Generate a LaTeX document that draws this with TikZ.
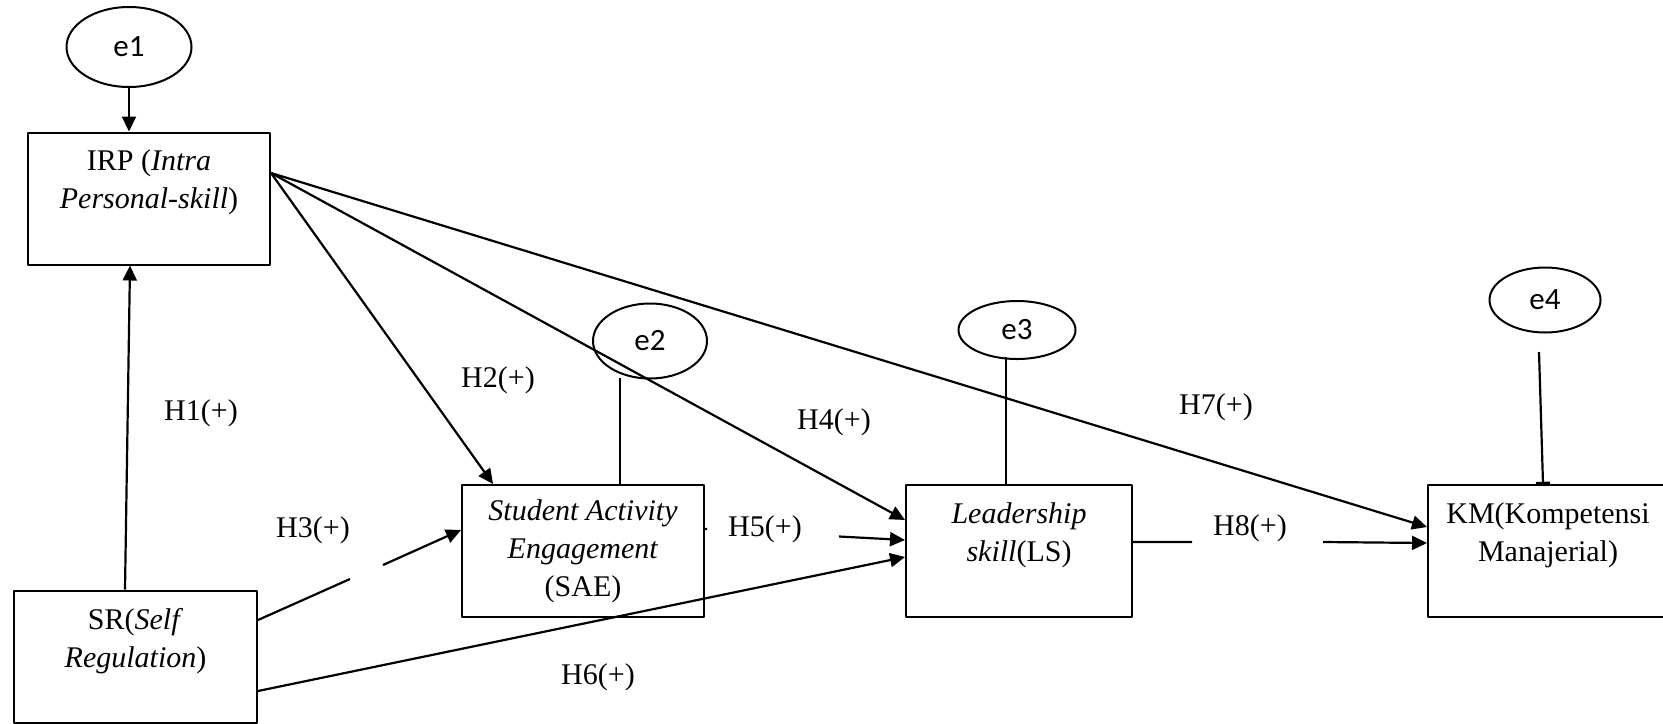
\documentclass[tikz,border=0pt]{standalone}
\usepackage{fontspec}
\setmainfont{Liberation Serif}
\newfontfamily\errfont{Carlito}
\usetikzlibrary{arrows.meta,shapes.geometric}
\begin{document}
\begin{tikzpicture}[x=0.5pt, y=-0.5pt, line join=round, line width=1.1pt,
	font=\fontsize{15}{19}\selectfont,
	>={Triangle[length=7.5pt,width=7pt]},
	box/.style={draw, line width=1pt, align=center, inner sep=0pt, minimum height=66pt},
	err/.style={draw, line width=1pt, ellipse, inner sep=0pt, font=\errfont\fontsize{15.5}{17}\selectfont}]
	\useasboundingbox (0,0) rectangle (1663,723);
	\node[box, minimum width=121pt] (irp) at (149,198.5) {IRP (\textit{Intra}\\\textit{Personal-skill})\\\mbox{}};
	\node[box, minimum width=121.5pt] (sr) at (135.5,656.5) {SR(\textit{Self}\\\textit{Regulation})\\\mbox{}};
	\node[box, minimum width=121pt] (sae) at (583,551) {\textit{Student Activity}\\\textit{Engagement}\\(SAE)};
	\node[box, minimum width=113pt] (ls) at (1019,551) {\textit{Leadership}\\\textit{skill}(LS)\\\mbox{}};
	\node[box, minimum width=120pt] (km) at (1548,551) {KM(Kompetensi\\Manajerial)\\\mbox{}};
	\node[err, minimum width=62.5pt, minimum height=40pt] (e1) at (129,47) {e1};
	\node[err, minimum width=57pt, minimum height=37.5pt] (e2) at (650,341) {e2};
	\node[err, minimum width=58.5pt, minimum height=29pt] (e3) at (1017,330) {e3};
	\node[err, minimum width=55.5pt, minimum height=32.5pt] (e4) at (1545,300) {e4};
	\path
		(620,378) coordinate (e2b)
		(1006,357) coordinate (e3b)
		(1539,352) coordinate (e4b)
		(350,579) coordinate (g3a)
		(383,565) coordinate (g3b)
		(707,529) coordinate (g5a)
		(839,536.5) coordinate (g5b)
		(1192,542) coordinate (g8a)
		(1323,542) coordinate (g8b);
	\draw[->] (e1.south) -- (e1.south |- irp.north);
	\draw[->] (sr.north -| 125,0) -- (irp.south -| 130,0);
	\foreach \t in {{sae.north -| 493,0}, {ls.west |- 0,520}, {km.west |- 0,527}}
		\draw[->] (irp.east |- 0,173) -- (\t);
	\draw (e2b) -- (e2b |- sae.north) (e3b) -- (e3b |- ls.north);
	\draw[-{Bar[width=7pt]}] (e4b) -- (km.north -| 1543,0);
	\draw (sr.east |- 0,620) -- (g3a) (sae.east |- 0,529) -- (g5a) (ls.east |- 0,542) -- (g8a);
	\draw[->] (g3b) -- (sae.west |- 0,530);
	\draw[->] (g5b) -- (ls.west |- 0,540);
	\draw[->] (g8b) -- (km.west |- 0,543);
	\draw[->] (sr.east |- 0,691) -- (ls.west |- 0,557);
	\foreach \n/\x/\y in {1/201/413, 2/498/380, 3/313/530, 4/834/422, 5/765/529, 6/598/677, 7/1216/407, 8/1250/528}
		\node (h\n) at (\x,\y) {H\n(+)};
\end{tikzpicture}
\end{document}
